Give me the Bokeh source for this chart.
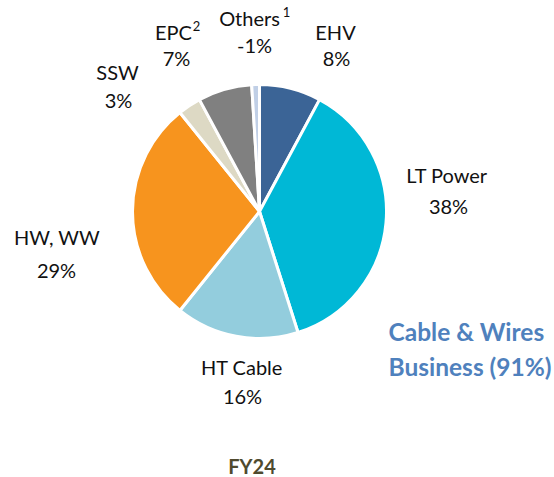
import math
from bokeh.plotting import figure
from bokeh.models import ColumnDataSource, Range1d
from bokeh.core.properties import value
from bokeh.embed import file_html
from bokeh.resources import INLINE

W, H = 554, 477

# ---- data ----
segments = ["EHV", "LT Power", "HT Cable", "HW, WW", "SSW", "EPC", "Others"]
slice_values = [8, 38, 16, 29, 3, 7, 1]
label_texts = ["8%", "38%", "16%", "29%", "3%", "7%", "-1%"]
colors = ["#3B6496", "#00B8D6", "#93CDDD", "#F7941E", "#DDD9C4", "#808080", "#C0CFE6"]
superscripts = {"EPC": "2", "Others": "1"}
group_title = ["Cable & Wires", "Business (91%)"]
period = "FY24"

# ---- layout (pixels from top-left) ----
cx, cy, R = 259, 211, 127
name_pos = {
    "EHV": (335, 31), "LT Power": (446.5, 174.5), "HT Cable": (241.5, 366),
    "HW, WW": (56.5, 236), "SSW": (117, 71), "EPC": (173, 31.5), "Others": (249, 17.5),
}
pct_pos = {
    "EHV": (336, 57.5), "LT Power": (448, 205), "HT Cable": (242, 395),
    "HW, WW": (56, 269.5), "SSW": (118, 99.5), "EPC": (176, 57.5), "Others": (254, 44),
}
FONT = "Lato"

p = figure(width=W, height=H, output_backend="svg", toolbar_location=None,
           x_range=Range1d(0, W), y_range=Range1d(0, H), min_border=0)
p.axis.visible = False
p.grid.visible = False
p.outline_line_color = None
p.background_fill_color = "white"

total = sum(slice_values)
starts, ends = [], []
cum = 0.0
for v in slice_values:
    a0 = cum / total
    cum += v
    a1 = cum / total
    starts.append(math.pi / 2 - 2 * math.pi * a1)
    ends.append(math.pi / 2 - 2 * math.pi * a0)

src = ColumnDataSource(dict(x=[cx] * len(segments), y=[H - cy] * len(segments),
                            start=starts, end=ends, color=colors))
p.wedge(x="x", y="y", radius=R, start_angle="start", end_angle="end",
        fill_color="color", line_color="white", line_width=3, source=src)

names_src = ColumnDataSource(dict(
    x=[name_pos[s][0] for s in segments], y=[H - name_pos[s][1] for s in segments], t=segments))
p.text(x="x", y="y", text="t", source=names_src, text_font=value(FONT), text_font_size="20px",
       text_align="center", text_baseline="middle", text_color="#111111")
pct_src = ColumnDataSource(dict(
    x=[pct_pos[s][0] for s in segments], y=[H - pct_pos[s][1] for s in segments], t=label_texts))
p.text(x="x", y="y", text="t", source=pct_src, text_font=value(FONT), text_font_size="20px",
       text_align="center", text_baseline="middle", text_color="#111111")

sup_pos = {"EPC": (196, 25), "Others": (286, 11)}
sup_src = ColumnDataSource(dict(x=[sup_pos[k][0] for k in superscripts],
                                y=[H - sup_pos[k][1] for k in superscripts],
                                t=[superscripts[k] for k in superscripts]))
p.text(x="x", y="y", text="t", source=sup_src, text_font=value(FONT), text_font_size="13px",
       text_align="center", text_baseline="middle", text_color="#111111")

title_src = ColumnDataSource(dict(x=[388, 388], y=[H - 331, H - 366], t=group_title))
p.text(x="x", y="y", text="t", source=title_src, text_font=value(FONT), text_font_size="24.5px",
       text_font_style="bold", text_align="left", text_baseline="middle", text_color="#4F81BD")

p.text(x=[251.5], y=[H - 465.5], text=[period], text_font=value(FONT), text_font_size="20px",
       text_font_style="bold", text_align="center", text_baseline="middle", text_color="#4F4A2E")

open("out.html", "w").write(file_html(p, INLINE))
